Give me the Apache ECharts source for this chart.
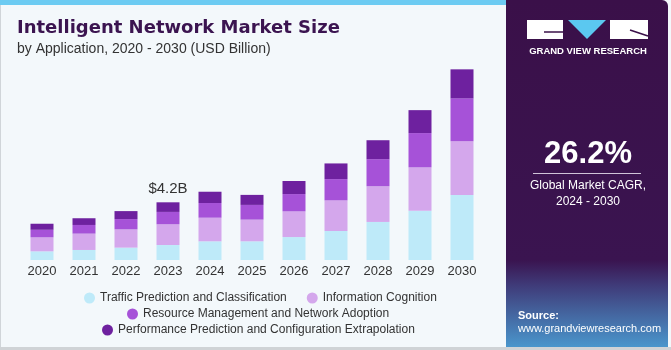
<!DOCTYPE html>
<html>
<head>
<meta charset="utf-8">
<script src="https://cdn.jsdelivr.net/npm/echarts@6/dist/echarts.min.js"></script>
<style>
  html, body { margin: 0; padding: 0; background: #f3f8fb; }
  #chart { width: 671px; height: 350px; }
</style>
</head>
<body>
<div id="chart"></div>
<script>
// values, USD billion
const years = ['2020', '2021', '2022', '2023', '2024', '2025', '2026', '2027', '2028', '2029', '2030']
const traffic = [0.63, 0.73, 0.90, 1.09, 1.36, 1.36, 1.67, 2.11, 2.77, 3.59, 4.73]
const cognition = [1.02, 1.19, 1.33, 1.51, 1.72, 1.58, 1.87, 2.23, 2.60, 3.15, 3.91]
const resource = [0.55, 0.63, 0.75, 0.90, 1.07, 1.07, 1.26, 1.55, 1.97, 2.50, 3.13]
const performance = [0.44, 0.49, 0.58, 0.70, 0.82, 0.73, 0.95, 1.14, 1.38, 1.67, 2.11]
const seriesNames = [
  'Traffic Prediction and Classification',
  'Information Cognition',
  'Resource Management and Network Adoption',
  'Performance Prediction and Configuration Extrapolation',
]
const colors = ['#beeaf9', '#d4a7ec', '#a652d8', '#6e219f']
const labelYear = '2023'
const labelText = '$4.2B'
const cagr = '26.2%'

const chart = echarts.init(document.getElementById('chart'))

const font = 'Liberation Sans, Arial, sans-serif'
const values = [traffic, cognition, resource, performance]

const series = values.map((arr, i) => ({
  name: seriesNames[i],
  type: 'bar',
  stack: 'total',
  barWidth: 23,
  itemStyle: { color: colors[i] },
  data: arr.map((v, j) => {
    if (i === values.length - 1 && years[j] === labelYear) {
      return {
        value: v,
        label: {
          show: true, position: 'top', distance: 6,
          formatter: labelText, color: '#333', fontSize: 15, fontFamily: font,
        },
      }
    }
    return v
  }),
}))

function legendRow(names, left, top) {
  return {
    data: names,
    left, top,
    orient: 'horizontal',
    itemWidth: 11, itemHeight: 11, itemGap: 20,
    icon: 'circle',
    textStyle: { color: '#333', fontSize: 12, fontFamily: font },
    selectedMode: false,
  }
}

const panelX = 506
const panelW = 162

chart.setOption({
  backgroundColor: '#f3f8fb',
  animation: false,
  grid: { left: 21, width: 462, top: 60, bottom: 90 },
  xAxis: {
    type: 'category',
    data: years,
    axisLine: { show: false },
    axisTick: { show: false },
    axisLabel: { color: '#333', fontSize: 13, fontFamily: font, margin: 5 },
  },
  yAxis: { type: 'value', min: 0, max: 14.56, show: false },
  legend: [
    legendRow([seriesNames[0], seriesNames[1]], 79, 287),
    legendRow([seriesNames[2]], 122, 303),
    legendRow([seriesNames[3]], 97, 319),
  ],
  series,
  graphic: [
    // top stripe
    { type: 'rect', shape: { x: 0, y: 0, width: panelX, height: 5 }, style: { fill: '#6ccbf2' }, silent: true },
    // left edge and bottom edge
    { type: 'rect', shape: { x: 0, y: 5, width: 1, height: 345 }, style: { fill: '#d0d5d9' }, silent: true },
    { type: 'rect', shape: { x: 0, y: 347, width: 671, height: 3 }, style: { fill: '#cfd3d6' }, silent: true },
    // right panel
    {
      type: 'rect',
      shape: { x: panelX, y: 0, width: panelW, height: 347, r: [0, 6, 0, 0] },
      style: {
        fill: new echarts.graphic.LinearGradient(0, 0, 0, 1, [
          { offset: 0, color: '#3a1049' },
          { offset: 0.75, color: '#3a1450' },
          { offset: 0.82, color: '#3f3a78' },
          { offset: 1, color: '#4a96cc' },
        ]),
      },
      silent: true,
    },
    // logo blocks
    { type: 'rect', shape: { x: 527, y: 20, width: 36, height: 19 }, style: { fill: '#fff' }, silent: true },
    { type: 'polygon', shape: { points: [[568, 20], [606, 20], [587, 39]] }, style: { fill: '#5bc8f0' }, silent: true },
    { type: 'rect', shape: { x: 610, y: 20, width: 38, height: 19 }, style: { fill: '#fff' }, silent: true },
    { type: 'line', shape: { x1: 544, y1: 32, x2: 563, y2: 32 }, style: { stroke: '#3a1049', lineWidth: 1.5 }, silent: true },
    { type: 'line', shape: { x1: 630, y1: 30, x2: 648, y2: 36 }, style: { stroke: '#3a1049', lineWidth: 1.5 }, silent: true },
    {
      type: 'text', x: 588, y: 46,
      style: { text: 'GRAND VIEW RESEARCH', fill: '#fff', font: 'bold 9.5px ' + font, textAlign: 'center' },
      silent: true,
    },
    {
      type: 'text', x: 588, y: 139,
      style: { text: cagr, fill: '#fff', font: 'bold 31px ' + font, textAlign: 'center' },
      silent: true,
    },
    { type: 'rect', shape: { x: 533, y: 173, width: 108, height: 1 }, style: { fill: '#cfc3d8' }, silent: true },
    {
      type: 'text', x: 588, y: 178,
      style: { text: 'Global Market CAGR,\n2024 - 2030', fill: '#fff', font: '12px ' + font, textAlign: 'center', lineHeight: 16 },
      silent: true,
    },
    {
      type: 'text', x: 518, y: 310,
      style: { text: 'Source:', fill: '#fff', font: 'bold 11px ' + font },
      silent: true,
    },
    {
      type: 'text', x: 518, y: 323,
      style: { text: 'www.grandviewresearch.com', fill: '#fff', font: '11px ' + font },
      silent: true,
    },
    // title
    {
      type: 'text', x: 17, y: 19,
      style: { text: 'Intelligent Network Market Size', fill: '#3b1450', font: 'bold 18px DejaVu Sans, sans-serif' },
      silent: true,
    },
    {
      type: 'text', x: 17, y: 42,
      style: { text: 'by Application, 2020 - 2030 (USD Billion)', fill: '#333', font: '14px ' + font },
      silent: true,
    },
  ],
})
</script>
</body>
</html>
